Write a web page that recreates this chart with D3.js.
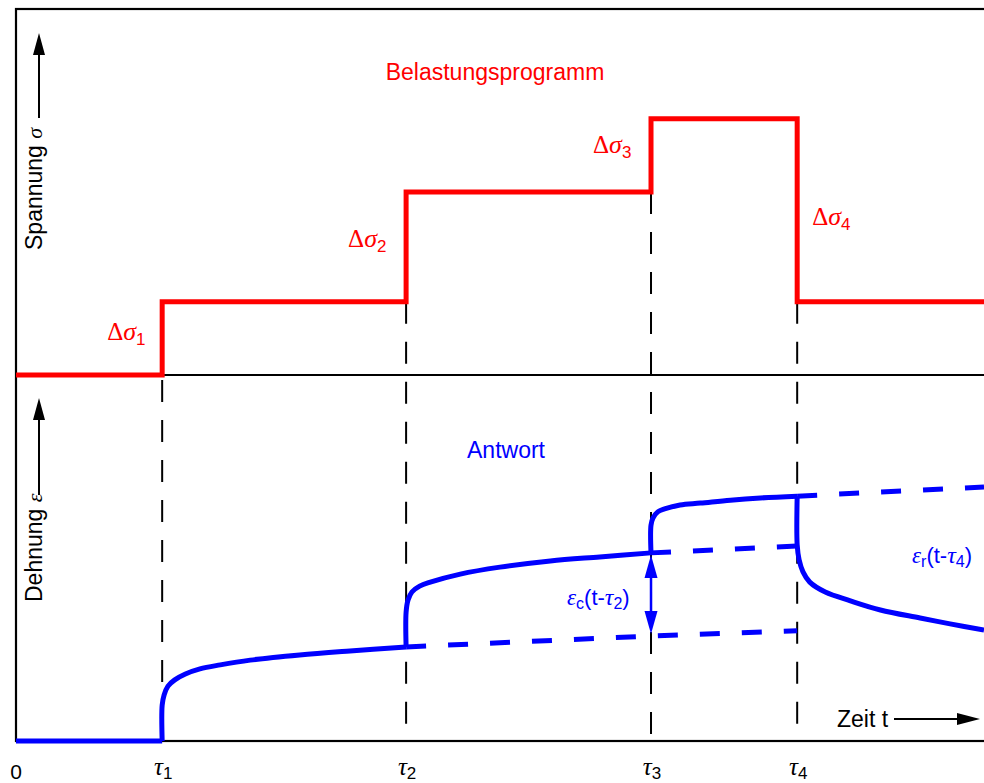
<!DOCTYPE html>
<html>
<head>
<meta charset="utf-8">
<script src="https://cdn.jsdelivr.net/npm/d3@7/dist/d3.min.js"></script>
<style>
  html, body { margin: 0; padding: 0; background: #fff; }
  svg { display: block; }
  text { font-family: "Liberation Sans", Arial, sans-serif; }
  .greek { font-family: "Liberation Serif", "DejaVu Serif", serif; font-style: italic; }
</style>
</head>
<body>
<svg id="chart" width="984" height="783"></svg>
<script>
// Load times (arbitrary time units) and the stress program
const tauNames = ["τ1", "τ2", "τ3", "τ4"];
const tauTimes = [15.1, 40.3, 65.6, 80.7];
const stepTimes = [0, 15.1, 40.3, 65.6, 80.7, 100];
const stressLevels = [0, 2, 5, 7, 2, 2];
const stressLabels = ["1", "2", "3", "4"];

// Strain response, sampled as [t, ε] pairs
const strainBase = [[0, 0], [15.1, 0]];
const creep1 = [[15.1, 0], [15.1, 0.98], [15.3, 1.26], [15.7, 1.50], [16.4, 1.67], [17.5, 1.83],
  [19.0, 1.97], [21.1, 2.08], [24.2, 2.21], [29.3, 2.35], [34.5, 2.46], [40.3, 2.57]];
const creep2 = [[40.3, 2.57], [40.3, 3.52], [40.5, 3.85], [40.9, 4.07], [41.7, 4.23], [42.8, 4.34],
  [45.9, 4.56], [50.0, 4.75], [55.2, 4.92], [60.3, 5.03], [65.6, 5.14]];
const creep3 = [[65.6, 5.14], [65.6, 5.90], [65.8, 6.09], [66.3, 6.26], [67.0, 6.34], [68.6, 6.45],
  [70.7, 6.50], [73.8, 6.58], [76.9, 6.64], [80.7, 6.69]];
const recovery4 = [[80.7, 6.69], [80.7, 5.36], [80.9, 4.95], [81.3, 4.62], [82.0, 4.34], [83.6, 4.07],
  [86.2, 3.83], [89.3, 3.58], [93.4, 3.36], [96.5, 3.20], [100, 3.03]];
// Continuations of each creep branch had the load stayed constant
const cont1 = [[40.3, 2.57], [65.6, 2.87], [80.7, 3.01]];
const cont2 = [[65.6, 5.14], [80.7, 5.33]];
const cont3 = [[80.7, 6.69], [100, 6.94]];
const creepArrow = { t: 65.6, from: 2.87, to: 5.14 };

const RED = "#ff0000", BLUE = "#0000ff";
const L = 16, R = 984, TOP = 9, MID = 375, BOT = 741;

const svg = d3.select("#chart");
const x = d3.scaleLinear().domain([0, 100]).range([L, R]);
const yS = d3.scaleLinear().domain([0, 10]).range([MID, TOP]);
const yE = d3.scaleLinear().domain([0, 10]).range([BOT, MID]);

// Frame and panel divider
svg.append("rect").attr("x", L).attr("y", TOP).attr("width", R - L + 20).attr("height", BOT - TOP)
  .attr("fill", "none").attr("stroke", "#000").attr("stroke-width", 2.2);
svg.append("line").attr("x1", L).attr("x2", R + 10).attr("y1", MID).attr("y2", MID)
  .attr("stroke", "#000").attr("stroke-width", 2);

// Dashed guides at the load times
tauTimes.forEach((t, i) => {
  const lo = Math.min(stressLevels[i], stressLevels[i + 1]);
  const y0 = lo === 0 ? yS(0) + 5 : yS(lo);
  svg.append("line").attr("x1", x(t)).attr("x2", x(t)).attr("y1", y0).attr("y2", BOT)
    .attr("stroke", "#000").attr("stroke-width", 2).attr("stroke-dasharray", "22,18");
});

// Stress program
const stressLine = d3.line().x(d => x(d[0])).y(d => yS(d[1])).curve(d3.curveStepAfter);
svg.append("path").datum(stepTimes.map((t, i) => [t, stressLevels[i]]))
  .attr("d", stressLine).attr("fill", "none").attr("stroke", RED).attr("stroke-width", 5)
  .attr("stroke-linejoin", "miter");

// Strain response
const strainLine = d3.line().x(d => x(d[0])).y(d => yE(d[1]));
const smoothLine = d3.line().x(d => x(d[0])).y(d => yE(d[1])).curve(d3.curveCatmullRom.alpha(0.5));
[cont1, cont2, cont3].forEach(seg => {
  svg.append("path").datum(seg).attr("d", strainLine).attr("fill", "none")
    .attr("stroke", BLUE).attr("stroke-width", 5).attr("stroke-dasharray", "20,22");
});
svg.append("path").datum(strainBase).attr("d", strainLine).attr("fill", "none")
  .attr("stroke", BLUE).attr("stroke-width", 5);
[creep1, creep2, creep3, recovery4].forEach(seg => {
  svg.append("path").datum(seg).attr("d", smoothLine).attr("fill", "none")
    .attr("stroke", BLUE).attr("stroke-width", 5).attr("stroke-linejoin", "round");
});

// Double arrow marking the creep increment
{
  const ax = x(creepArrow.t), yTop = yE(creepArrow.to) + 2, yBot = yE(creepArrow.from) - 2;
  const hl = 23, hw = 6.5;
  svg.append("line").attr("x1", ax).attr("x2", ax).attr("y1", yTop + hl - 2).attr("y2", yBot - hl + 2)
    .attr("stroke", BLUE).attr("stroke-width", 2.5);
  svg.append("path").attr("d", `M${ax},${yTop}L${ax - hw},${yTop + hl}L${ax + hw},${yTop + hl}Z`).attr("fill", BLUE);
  svg.append("path").attr("d", `M${ax},${yBot}L${ax - hw},${yBot - hl}L${ax + hw},${yBot - hl}Z`).attr("fill", BLUE);
}

// Axis arrows
function arrowUp(ax, yTip, yEnd) {
  svg.append("line").attr("x1", ax).attr("x2", ax).attr("y1", yTip + 20).attr("y2", yEnd)
    .attr("stroke", "#000").attr("stroke-width", 2);
  svg.append("path").attr("d", `M${ax},${yTip}L${ax - 6},${yTip + 22}L${ax + 6},${yTip + 22}Z`).attr("fill", "#000");
}
arrowUp(39, 33, 118);
arrowUp(39, 398, 495);
svg.append("line").attr("x1", 894).attr("x2", 960).attr("y1", 719).attr("y2", 719)
  .attr("stroke", "#000").attr("stroke-width", 2);
svg.append("path").attr("d", "M980,719L957,713L957,725Z").attr("fill", "#000");

// Axis titles
function vTitle(px, py, word, sym) {
  const t = svg.append("text").attr("transform", `translate(${px},${py}) rotate(-90)`)
    .attr("font-size", 23).attr("fill", "#000");
  t.append("tspan").text(word + " ");
  t.append("tspan").attr("class", "greek").attr("font-size", 22).text(sym);
}
vTitle(42, 250, "Spannung", "σ");
vTitle(42, 602, "Dehnung", "ε");
svg.append("text").attr("x", 837).attr("y", 727).attr("font-size", 23).text("Zeit t");

// Time tick labels
svg.append("text").attr("x", x(0)).attr("y", 779).attr("font-size", 21).attr("text-anchor", "middle").text("0");
tauTimes.forEach((t, i) => {
  const lab = svg.append("text").attr("x", x(t) + 1).attr("y", 775).attr("text-anchor", "middle");
  lab.append("tspan").attr("class", "greek").attr("font-size", 25).text(tauNames[i][0]);
  lab.append("tspan").attr("font-size", 17).attr("dy", 4).text(tauNames[i].slice(1));
});

// Stress step labels
const stepLabelPos = [[-55, 302, 38], [-58, 192, 55], [-58, 119, 34], [15, 119, 106]];
stressLabels.forEach((s, i) => {
  const p = stepLabelPos[i];
  const lab = svg.append("text").attr("x", x(tauTimes[i]) + p[0]).attr("y", p[1] + p[2]).attr("fill", RED);
  lab.append("tspan").attr("font-family", "Liberation Serif, serif").attr("font-size", 25).text("Δ");
  lab.append("tspan").attr("class", "greek").attr("font-size", 26).text("σ");
  lab.append("tspan").attr("font-size", 17).attr("dy", 5).text(s);
});

// Panel titles
svg.append("text").attr("x", 495).attr("y", 80).attr("font-size", 23).attr("fill", RED)
  .attr("text-anchor", "middle").text("Belastungsprogramm");
svg.append("text").attr("x", 506).attr("y", 458).attr("font-size", 23).attr("fill", BLUE)
  .attr("text-anchor", "middle").text("Antwort");

// Response component labels
function compLabel(px, py, sub, tauIdx) {
  const t = svg.append("text").attr("x", px).attr("y", py).attr("fill", BLUE).attr("font-size", 22);
  t.append("tspan").attr("class", "greek").attr("font-size", 23).text("ε");
  t.append("tspan").attr("font-size", 16).attr("dy", 4).text(sub);
  t.append("tspan").attr("dy", -4).text("(t-");
  t.append("tspan").attr("class", "greek").attr("font-size", 24).text("τ");
  t.append("tspan").attr("font-size", 16).attr("dy", 4).text(String(tauIdx));
  t.append("tspan").attr("dy", -4).text(")");
}
compLabel(567, 605, "c", 2);
compLabel(912, 563, "r", 4);
</script>
</body>
</html>
